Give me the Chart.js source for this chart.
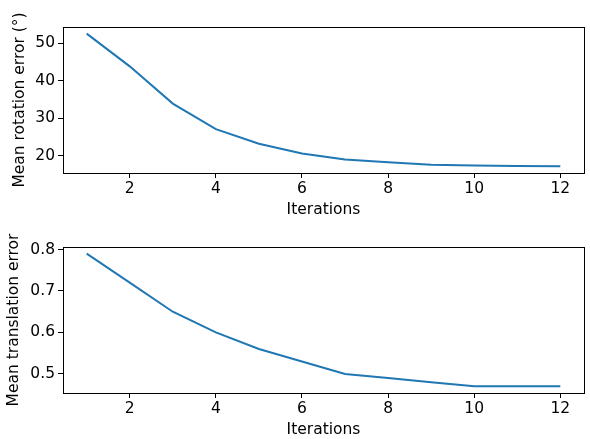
<!DOCTYPE html>
<html lang="en">
<head>
  <meta charset="UTF-8">
  <title>Mean errors vs iterations</title>
  <script src="https://cdn.jsdelivr.net/npm/chart.js"></script>
  <style>
    html, body { margin: 0; padding: 0; background: #fff; overflow: hidden; }
    .panel { position: absolute; left: 0; width: 590px; height: 219px; }
    #top { top: 0; }
    #bottom { top: 220px; }
  </style>
</head>
<body>
  <div class="panel" id="top"><canvas id="chartRot"></canvas></div>
  <div class="panel" id="bottom"><canvas id="chartTrans"></canvas></div>

  <script>
    // data
    const iterations = [1, 2, 3, 4, 5, 6, 7, 8, 9, 10, 11, 12];
    const rotationError = [52.5, 43.8, 33.9, 27.1, 23.2, 20.6, 19.0, 18.3, 17.6, 17.4, 17.3, 17.2];
    const translationError = [0.79, 0.72, 0.65, 0.60, 0.56, 0.53, 0.50, 0.49, 0.48, 0.47, 0.47, 0.47];
    const xTicks = [2, 4, 6, 8, 10, 12];
    const rotTicks = [20, 30, 40, 50];
    const transTicks = [0.5, 0.6, 0.7, 0.8];

    const FONT = { family: 'DejaVu Sans', size: 15.5 };

    // spines on all four sides, like matplotlib
    const frame = {
      id: 'frame',
      afterDraw(chart) {
        const a = chart.chartArea, ctx = chart.ctx;
        ctx.save();
        ctx.strokeStyle = '#000';
        ctx.lineWidth = 1;
        ctx.strokeRect(Math.round(a.left) + 0.5, Math.round(a.top) + 0.5,
                       Math.round(a.right - a.left), Math.round(a.bottom - a.top));
        ctx.restore();
      }
    };

    function padRange(vals) {
      const lo = Math.min(...vals), hi = Math.max(...vals);
      const p = (hi - lo) * 0.05;
      return [lo - p, hi + p];
    }

    function makeChart(id, values, yTicks, yTitle, decimals, titlePad) {
      const [ymin, ymax] = padRange(values);
      const [xmin, xmax] = padRange(iterations);
      return new Chart(document.getElementById(id), {
        type: 'line',
        data: {
          datasets: [{
            data: iterations.map((x, i) => ({ x: x, y: values[i] })),
            borderColor: '#1f77b4',
            borderWidth: 2,
            pointRadius: 0,
            tension: 0,
            fill: false
          }]
        },
        options: {
          responsive: true,
          maintainAspectRatio: false,
          animation: false,
          layout: { padding: { top: 27, right: 6, left: 0, bottom: 0 } },
          plugins: { legend: { display: false }, tooltip: { enabled: false } },
          scales: {
            x: {
              type: 'linear',
              min: xmin, max: xmax,
              afterBuildTicks: s => { s.ticks = xTicks.map(v => ({ value: v })); },
              afterFit: s => { s.height = 46; },
              grid: { drawOnChartArea: false, drawTicks: true, tickLength: 5, color: '#000' },
              border: { display: true, color: '#000', width: 1 },
              ticks: { color: '#000', font: FONT, padding: 2, maxRotation: 0 },
              title: { display: true, text: 'Iterations', color: '#000', font: FONT,
                       padding: { top: 0, bottom: 0 } }
            },
            y: {
              min: ymin, max: ymax,
              afterBuildTicks: s => { s.ticks = yTicks.map(v => ({ value: v })); },
              afterFit: s => { s.width = 63; },
              grid: { drawOnChartArea: false, drawTicks: true, tickLength: 5, color: '#000' },
              border: { display: true, color: '#000', width: 1 },
              ticks: { color: '#000', font: FONT, padding: 3,
                       callback: v => v.toFixed(decimals) },
              title: { display: true, text: yTitle, color: '#000', font: FONT,
                       padding: { top: titlePad, bottom: 0 } }
            }
          }
        },
        plugins: [frame]
      });
    }

    makeChart('chartRot', rotationError, rotTicks, 'Mean rotation error (°)', 0, 11);
    makeChart('chartTrans', translationError, transTicks, 'Mean translation error', 1, 5);
  </script>
</body>
</html>
